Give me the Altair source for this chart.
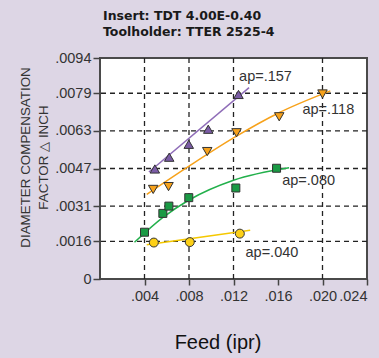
import altair as alt
import pandas as pd

# Measured points per depth of cut (ap)
ap157_x = [0.00493, 0.00622, 0.00798, 0.00973, 0.01245]
ap157_y = [0.00468, 0.00518, 0.00573, 0.00637, 0.00785]
ap118_x = [0.00478, 0.00616, 0.00964, 0.01227, 0.01611, 0.02000]
ap118_y = [0.00381, 0.00393, 0.00542, 0.00622, 0.00690, 0.00787]
ap080_x = [0.00400, 0.00565, 0.00619, 0.00798, 0.01221, 0.01587]
ap080_y = [0.00199, 0.00279, 0.00310, 0.00346, 0.00387, 0.00471]
ap040_x = [0.00484, 0.00807, 0.01257]
ap040_y = [0.00155, 0.00157, 0.00193]

# Trend lines through each group
fit157_x = [0.0044, 0.0134]
fit157_y = [0.00455, 0.00814]
fit118_x = [0.0042, 0.0080, 0.0120, 0.0160, 0.0207]
fit118_y = [0.0036, 0.0048, 0.0060, 0.00705, 0.0080]
fit080_x = [0.0031, 0.0056, 0.0080, 0.0120, 0.0170]
fit080_y = [0.00156, 0.0026, 0.00336, 0.0042, 0.00473]
fit040_x = [0.0042, 0.0135]
fit040_y = [0.00146, 0.00207]

# Curve annotations
label_text = ["ap=.157", "ap=.118", "ap=.080", "ap=.040"]
label_x = [0.0125, 0.0182, 0.01638, 0.01308]
label_y = [0.0086, 0.00719, 0.00417, 0.00112]

x_ticks = [0.004, 0.008, 0.012, 0.016, 0.020, 0.024]
y_ticks = [0, 0.0016, 0.0031, 0.0047, 0.0063, 0.0079, 0.0094]
x_grid = [0.004, 0.008, 0.012, 0.020]
y_grid = [0.0016, 0.0031, 0.0047, 0.0063, 0.0079]

FONT = "Liberation Sans"
TXT = "#333333"

xs = alt.Scale(domain=[0, 0.024], nice=False, zero=False)
ys = alt.Scale(domain=[0, 0.0094], nice=False, zero=False)

x_axis = alt.Axis(
    values=x_ticks, grid=False, domain=False, tickColor="#444444", tickSize=6,
    tickWidth=1.5, labelFontSize=14.5, labelColor=TXT, labelFont=FONT, labelPadding=4,
    labelOverlap=False,
    labelExpr="substring(format(datum.value, '.3f'), 1)",
    title="Feed (ipr)", titleFont=FONT, titleFontSize=20, titleFontWeight="normal",
    titleColor="#111111", titleX=117.5, titleY=69, titleBaseline="alphabetic",
    titleAlign="center",
)
y_axis = alt.Axis(
    values=y_ticks, grid=False, domain=False, tickColor="#444444", tickSize=7,
    tickWidth=1.5, labelFontSize=14.5, labelColor=TXT, labelFont=FONT, labelPadding=2,
    labelOverlap=False,
    labelExpr="datum.value == 0 ? '0' : substring(format(datum.value, '.4f'), 1)",
    title=["DIAMETER COMPENSATION", "FACTOR \u25b3 INCH"], titleFont=FONT,
    titleFontSize=13.4, titleFontWeight="normal", titleColor=TXT, titleLineHeight=18,
    titleAngle=270, titleX=-75, titleY=99, titleAlign="center", titleBaseline="middle",
)

X = alt.X("x:Q", scale=xs, axis=x_axis)
Y = alt.Y("y:Q", scale=ys, axis=y_axis)

grid_x_df = pd.DataFrame({"x": x_grid})
grid_y_df = pd.DataFrame({"y": y_grid})

vgrid = alt.Chart(grid_x_df).mark_rule(color="#222222", strokeDash=[5, 4], strokeWidth=1.3).encode(x=X)
hgrid = alt.Chart(grid_y_df).mark_rule(color="#222222", strokeDash=[5, 4], strokeWidth=1.3).encode(y=Y)

series = [
    (fit157_x, fit157_y, ap157_x, ap157_y, "#8F6DB8", "#7B5CA6", "triangle-up", 90),
    (fit118_x, fit118_y, ap118_x, ap118_y, "#F7A21B", "#F7A21B", "triangle-down", 90),
    (fit080_x, fit080_y, ap080_x, ap080_y, "#22B04B", "#1A9A44", "square", 64),
    (fit040_x, fit040_y, ap040_x, ap040_y, "#F5C800", "#FDD017", "circle", 80),
]

layers = [vgrid, hgrid]
for fx, fy, px, py, lcol, fcol, shape, size in series:
    line = alt.Chart(pd.DataFrame({"x": fx, "y": fy})).mark_line(
        color=lcol, strokeWidth=1.5, interpolate="monotone"
    ).encode(x=X, y=Y)
    pts = alt.Chart(pd.DataFrame({"x": px, "y": py})).mark_point(
        shape=shape, filled=True, fill=fcol, stroke="#333333", strokeWidth=1,
        size=size, opacity=1
    ).encode(x=X, y=Y)
    layers += [line, pts]

labels = alt.Chart(pd.DataFrame({"t": label_text, "x": label_x, "y": label_y})).mark_text(
    align="left", baseline="middle", font=FONT, fontSize=14.5, color=TXT
).encode(x=X, y=Y, text="t:N")
layers.append(labels)

chart = alt.layer(*layers).properties(
    width=267, height=221,
    autosize=alt.AutoSizeParams(type="none"),
    padding={"left": 100, "top": 58, "right": 12, "bottom": 79},
    background="#DDD6E5",
    title=alt.TitleParams(
        text=["Insert: TDT 4.00E-0.40", "Toolholder: TTER 2525-4"],
        anchor="start", frame="group", align="left", font="DejaVu Sans",
        fontSize=12.5, fontWeight="bold", color="#1a1a1a", lineHeight=16,
        offset=12, dx=3,
    ),
).configure_axis(
    labelOverlap=False
).configure_view(
    fill="white", stroke="#4a4a4a", strokeWidth=2
)

chart.save("out.html", embed_options={"renderer": "svg", "actions": False})
